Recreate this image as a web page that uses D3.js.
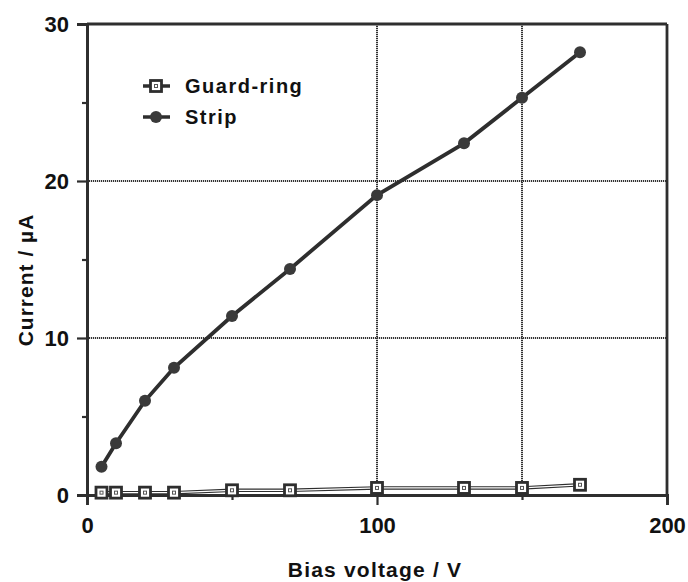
<!DOCTYPE html>
<html><head><meta charset="utf-8">
<script src="https://cdn.jsdelivr.net/npm/d3@7"></script>
<style>body{margin:0;background:#fff}svg{display:block}text{font-family:"Liberation Sans",Arial,sans-serif;font-weight:bold;fill:#111}</style>
</head><body><svg id="c" width="688" height="582"></svg>
<script>
const voltages = [5, 10, 20, 30, 50, 70, 100, 130, 150, 170];
const stripCurrent = [1.8, 3.3, 6.0, 8.1, 11.4, 14.4, 19.1, 22.4, 25.3, 28.2];
const guardCurrent = [0.15, 0.15, 0.15, 0.15, 0.3, 0.3, 0.45, 0.45, 0.45, 0.65];
const xTicks = [0, 100, 200];
const xMinor = [50, 150];
const xGrid = [100, 150];
const yTicks = [0, 10, 20, 30];
const yMinor = [5, 15, 25];
const yGrid = [10, 20];

const svg = d3.select("#c");
const L = 87, R = 667, T = 24, B = 495;
const x = d3.scaleLinear().domain([0, 200]).range([L, R]);
const y = d3.scaleLinear().domain([0, 30]).range([B, T]);
const ink = "#2e2e2e";

// grid
svg.append("g").selectAll("line").data(xGrid).join("line")
  .attr("x1", d => x(d)).attr("x2", d => x(d)).attr("y1", T).attr("y2", B)
  .attr("stroke", "#333").attr("stroke-width", 2).attr("stroke-dasharray", "1.2,0.8");
svg.append("g").selectAll("line").data(yGrid).join("line")
  .attr("y1", d => y(d)).attr("y2", d => y(d)).attr("x1", L).attr("x2", R)
  .attr("stroke", "#333").attr("stroke-width", 2).attr("stroke-dasharray", "1.2,0.8");

// frame
svg.append("line").attr("x1", L).attr("x2", R).attr("y1", T).attr("y2", T).attr("stroke", ink).attr("stroke-width", 2.8);
svg.append("line").attr("x1", R).attr("x2", R).attr("y1", T).attr("y2", B).attr("stroke", ink).attr("stroke-width", 2.8);

// axes
const xAxis = d3.axisBottom(x).tickValues(xTicks).tickSize(10).tickFormat(d3.format("d"));
const gx = svg.append("g").attr("transform", `translate(0,${B})`).call(xAxis);
const xAxisMinor = d3.axisBottom(x).tickValues(xMinor).tickSize(5).tickFormat("");
const gxm = svg.append("g").attr("transform", `translate(0,${B})`).call(xAxisMinor);
const yAxis = d3.axisLeft(y).tickValues(yTicks).tickSize(10).tickFormat(d3.format("d"));
const gy = svg.append("g").attr("transform", `translate(${L},0)`).call(yAxis);
const yAxisMinor = d3.axisLeft(y).tickValues(yMinor).tickSize(5).tickFormat("");
const gym = svg.append("g").attr("transform", `translate(${L},0)`).call(yAxisMinor);
[gx, gxm, gy, gym].forEach(g => {
  g.select(".domain").attr("stroke", ink).attr("stroke-width", 2.8);
  g.selectAll(".tick line").attr("stroke", ink).attr("stroke-width", 2.2);
});
gx.selectAll(".tick text").attr("font-size", 22).attr("fill", "#111").attr("y", 22).attr("dy", "0.71em");
gy.selectAll(".tick text").attr("font-size", 22).attr("fill", "#111").attr("x", -18).attr("dy", "0.35em");

// titles
svg.append("text").attr("x", 375).attr("y", 577).attr("text-anchor", "middle")
  .attr("font-size", 21).attr("letter-spacing", 1.2).text("Bias voltage / V");
svg.append("text").attr("transform", `translate(33,280) rotate(-90)`).attr("text-anchor", "middle")
  .attr("font-size", 21).attr("letter-spacing", 1).text("Current / µA");

// lines
const line = d3.line().x(d => x(d[0])).y(d => y(d[1]));
const guard = voltages.map((v, i) => [v, guardCurrent[i]]);
const strip = voltages.map((v, i) => [v, stripCurrent[i]]);
svg.append("path").datum(guard).attr("d", line).attr("fill", "none").attr("stroke", ink).attr("stroke-width", 3.5);
svg.append("path").datum(guard).attr("d", line).attr("fill", "none").attr("stroke", "#fff").attr("stroke-width", 1.2);
svg.append("path").datum(strip).attr("d", line).attr("fill", "none").attr("stroke", ink).attr("stroke-width", 3.8);

function square(g, cx, cy) {
  g.append("rect").attr("x", cx - 5.5).attr("y", cy - 5.5).attr("width", 11).attr("height", 11)
    .attr("fill", "#fff").attr("stroke", ink).attr("stroke-width", 2.8);
  g.append("rect").attr("x", cx - 1.5).attr("y", cy - 1.5).attr("width", 3).attr("height", 3)
    .attr("fill", "none").attr("stroke", "#555").attr("stroke-width", 1);
}
const gm = svg.append("g");
guard.forEach(d => square(gm, x(d[0]), y(d[1])));
svg.append("g").selectAll("circle").data(strip).join("circle")
  .attr("cx", d => x(d[0])).attr("cy", d => y(d[1])).attr("r", 6).attr("fill", "#3a3a3a");

// legend
const lg = svg.append("g");
lg.append("line").attr("x1", 143).attr("x2", 170).attr("y1", 86).attr("y2", 86).attr("stroke", ink).attr("stroke-width", 3.5);
square(lg, 156, 86);
lg.append("text").attr("x", 185).attr("y", 86).attr("dy", "0.35em").attr("font-size", 20).attr("letter-spacing", 1.5).text("Guard-ring");
lg.append("line").attr("x1", 143).attr("x2", 170).attr("y1", 117).attr("y2", 117).attr("stroke", ink).attr("stroke-width", 3.5);
lg.append("circle").attr("cx", 156).attr("cy", 117).attr("r", 6).attr("fill", "#3a3a3a");
lg.append("text").attr("x", 185).attr("y", 117).attr("dy", "0.35em").attr("font-size", 20).attr("letter-spacing", 1.5).text("Strip");
</script></body></html>
